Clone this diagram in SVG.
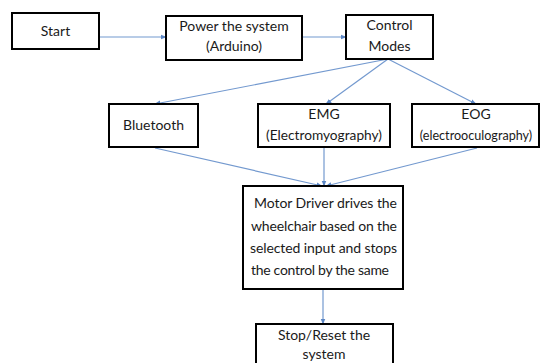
<svg xmlns="http://www.w3.org/2000/svg" width="541" height="363" viewBox="0 0 541 363">
  <style>
    .box { fill: #ffffff; stroke: #000000; stroke-width: 2; }
    .lbl { font-family: Lato, "Liberation Sans", sans-serif; font-size: 14px; fill: #1a1a1a; text-anchor: middle; }
    .body { font-family: Lato, "Liberation Sans", sans-serif; font-size: 14px; fill: #1a1a1a; }
    .edge { stroke: #7399cf; stroke-width: 1.2; fill: none; marker-end: url(#arrow); }
  </style>
  <defs>
    <marker id="arrow" viewBox="0 0 10 10" refX="9" refY="5" markerWidth="6" markerHeight="6" orient="auto" markerUnits="userSpaceOnUse">
      <path d="M0,1 L10,5 L0,9 z" fill="#5b86c4"/>
    </marker>
  </defs>
  <rect width="541" height="363" fill="#ffffff"/>

  <g id="connectors">
    <line class="edge" x1="100" y1="37" x2="166" y2="37"/>
    <line class="edge" x1="302" y1="37" x2="346" y2="37"/>
    <line class="edge" x1="388" y1="59" x2="155" y2="104"/>
    <line class="edge" x1="388" y1="59" x2="326" y2="104"/>
    <line class="edge" x1="388" y1="59" x2="476" y2="104"/>
    <line class="edge" x1="155" y1="148" x2="322" y2="186"/>
    <line class="edge" x1="324" y1="148" x2="324" y2="186"/>
    <line class="edge" x1="477" y1="148" x2="326" y2="186"/>
    <line class="edge" x1="323" y1="289" x2="323" y2="324"/>
  </g>

  <g id="start">
    <rect class="box" x="12" y="13" width="87" height="36"/>
    <text class="lbl" x="55.5" y="36">Start</text>
  </g>
  <g id="power">
    <rect class="box" x="166" y="16" width="136" height="44"/>
    <text class="lbl" x="234" y="31">Power the system</text>
    <text class="lbl" x="234" y="51">(Arduino)</text>
  </g>
  <g id="control">
    <rect class="box" x="346" y="15" width="87" height="44"/>
    <text class="lbl" x="389.5" y="30">Control</text>
    <text class="lbl" x="389.5" y="51">Modes</text>
  </g>
  <g id="bluetooth">
    <rect class="box" x="109" y="104" width="89" height="43"/>
    <text class="lbl" x="153.5" y="130">Bluetooth</text>
  </g>
  <g id="emg">
    <rect class="box" x="258" y="104" width="132" height="43"/>
    <text class="lbl" x="324" y="119">EMG</text>
    <text class="lbl" x="324" y="140" textLength="116" lengthAdjust="spacingAndGlyphs">(Electromyography)</text>
  </g>
  <g id="eog">
    <rect class="box" x="412" y="104" width="127" height="43"/>
    <text class="lbl" x="476" y="119">EOG</text>
    <text class="lbl" x="476" y="140" style="font-size:12.6px">(electrooculography)</text>
  </g>
  <g id="motor">
    <rect class="box" x="243" y="186" width="160" height="103"/>
    <text class="body" x="254" y="208" textLength="143" lengthAdjust="spacing">Motor Driver drives the</text>
    <text class="body" x="251" y="231" textLength="146" lengthAdjust="spacing">wheelchair based on the</text>
    <text class="body" x="250" y="253" textLength="147" lengthAdjust="spacing">selected input and stops</text>
    <text class="body" x="251" y="275" textLength="138" lengthAdjust="spacing">the control by the same</text>
  </g>
  <g id="stop">
    <rect class="box" x="256" y="324" width="137" height="44"/>
    <text class="lbl" x="324" y="340">Stop/Reset the</text>
    <text class="lbl" x="324" y="359">system</text>
  </g>
</svg>
